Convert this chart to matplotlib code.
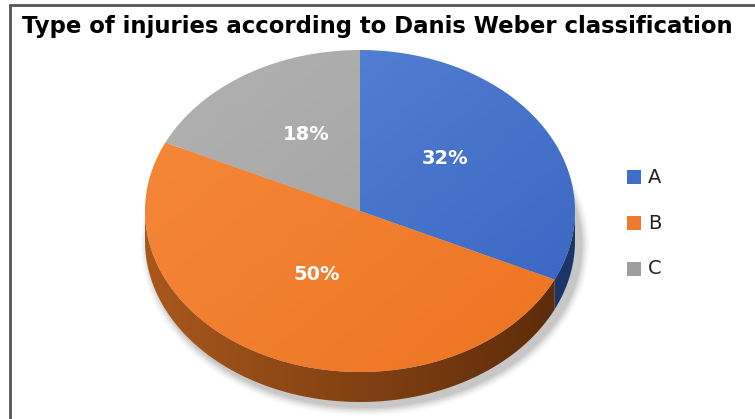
import numpy as np
import matplotlib
matplotlib.use('Agg')
import matplotlib.pyplot as plt
from matplotlib.patches import Polygon, Ellipse, Rectangle
from matplotlib.colors import to_rgb

# data
categories = ['A', 'B', 'C']
shares = [32, 50, 18]
title = 'Type of injuries according to Danis Weber classification'

# colours: (light, dark)
TOP_COLORS = {'A': ('#5B88D8', '#3461BE'), 'B': ('#F78A3C', '#EC7320'), 'C': ('#B2B2B2', '#9C9C9C')}
SIDE_COLORS = {'A': ('#2A4C8E', '#1C3566'), 'B': ('#A9581C', '#5A2A09'), 'C': ('#7A7A7A', '#555555')}
LEG_COLORS = {'A': '#3F6FC8', 'B': '#EF7A2E', 'C': '#9E9E9E'}

W, H = 755, 419
fig = plt.figure(figsize=(W / 100, H / 100), dpi=100)
ax = fig.add_axes([0, 0, 1, 1])
ax.axis('off')

cx, cy, rx, ry, depth = 360, 211, 215, 161, 30


def pt(t):
    # t: degrees clockwise from 12 o'clock
    r = np.radians(t)
    return cx + rx * np.sin(r), cy - ry * np.cos(r)


def grad_fill(patch, c1, c2, direction=(1, 1), zorder=2):
    ax.add_patch(patch)
    patch.set_facecolor('none'); patch.set_edgecolor('none')
    n = 200
    xx, yy = np.meshgrid(np.linspace(0, 1, n), np.linspace(0, 1, n))
    dx, dy = direction
    f = (xx * dx + yy * dy) / (abs(dx) + abs(dy))
    f = (f - f.min()) / (f.max() - f.min())
    a, b = np.array(to_rgb(c1)), np.array(to_rgb(c2))
    img = a[None, None, :] * (1 - f[..., None]) + b[None, None, :] * f[..., None]
    im = ax.imshow(img, extent=(cx - rx - 2, cx + rx + 2, cy + ry + depth + 2, cy - ry - 2),
                   origin='upper', zorder=zorder, interpolation='bilinear')
    im.set_clip_path(patch)


# soft shadow
for i, a in enumerate(np.linspace(0.06, 0.02, 6)):
    ax.add_patch(Ellipse((cx + 5, cy + depth + 4), 2 * rx + 4 + 3 * i, 2 * ry + 4 + 3 * i,
                         facecolor='#000000', alpha=a, edgecolor='none', zorder=0))

starts = np.concatenate([[0], np.cumsum(shares)[:-1]]) * 3.6
ends = np.cumsum(shares) * 3.6

# side walls (front half: 90..270 deg)
for cat, s, e in zip(categories, starts, ends):
    lo, hi = max(s, 90), min(e, 270)
    if hi <= lo:
        continue
    ts = np.linspace(lo, hi, 100)
    top = np.array([pt(t) for t in ts])
    bot = top + np.array([0, depth])
    poly = Polygon(np.vstack([top, bot[::-1]]), closed=True)
    c1, c2 = SIDE_COLORS[cat]
    grad_fill(poly, c1, c2, direction=(1, 0.0), zorder=1)

# top faces
for cat, s, e in zip(categories, starts, ends):
    ts = np.linspace(s, e, 200)
    arc = np.array([pt(t) for t in ts])
    poly = Polygon(np.vstack([[cx, cy], arc]), closed=True)
    c1, c2 = TOP_COLORS[cat]
    grad_fill(poly, c1, c2, direction=(1, 1), zorder=3)

# percent labels
for cat, s, e, v in zip(categories, starts, ends, shares):
    lx, ly = pt((s + e) / 2)
    lx = cx + (lx - cx) * 0.47
    ly = cy + (ly - cy) * 0.5 - 9
    ax.text(lx, ly, f'{v}%', color='white', fontsize=14, fontweight='bold',
            ha='center', va='center', zorder=5)

# legend
for i, cat in enumerate(categories):
    y = 177 + i * 46
    ax.add_patch(Rectangle((627, y - 7), 14, 14, facecolor=LEG_COLORS[cat], edgecolor='none', zorder=5))
    ax.text(648, y, cat, fontsize=14, color='#222222', ha='left', va='center', zorder=5)

# title
ax.text(22, 26, title, fontsize=16.4, fontweight='bold', color='black',
        ha='left', va='center', zorder=5)

# frame (left and top edges visible)
ax.plot([10, 10, W + 5], [H + 5, 5.5, 5.5], color='#555555', lw=2, zorder=6,
        solid_joinstyle='miter')

ax.set_xlim(0, W); ax.set_ylim(H, 0)
fig.savefig('out.png', dpi=100)
